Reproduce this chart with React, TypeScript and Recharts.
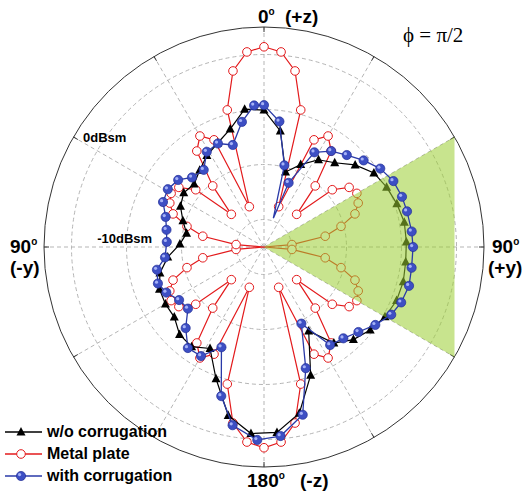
import React from "react";
import { RadarChart, Radar, PolarGrid, PolarAngleAxis, PolarRadiusAxis, Legend } from "recharts";

const W = 522;
const H = 495;
const CX = 264;
const CY = 247;
const R = 220;

// RCS in dBsm at incidence angle (deg, clockwise from +z); radial axis -40 (centre) .. 0 (outer circle)
const redAngles = [
  0, 5, 10, 15, 20, 25, 30, 35, 40, 45, 50, 55, 60, 65, 70, 75, 80, 85, 90,
  95, 100, 105, 110, 115, 120, 125, 130, 135, 140, 145, 150, 155, 160, 165, 170, 175, 180,
  185, 190, 195, 200, 205, 210, 215, 220, 225, 230, 235, 240, 245, 250, 255, 260, 265, 270,
  275, 280, 285, 290, 295, 300, 305, 310, 315, 320, 325, 330, 335, 340, 345, 350, 355,
];
const redDb = [
  -3.6, -4.4, -7.5, -14.2, -32.2, -18.5, -16.7, -18.7, -25.5, -31.6, -23.8, -21.1, -20.5, -21.1, -22.4, -25.5, -28.7, -34.9, -40,
  -34.9, -28.7, -25.5, -22.4, -21.1, -20.5, -21.1, -23.8, -31.6, -25.5, -18.7, -16.7, -18.5, -32.2, -14.2, -7.5, -4.4, -3.5,
  -4.4, -7.5, -14.2, -32.2, -18.5, -16.7, -18.7, -25.5, -31.6, -23.8, -21.1, -20.5, -21.1, -22.4, -25.5, -28.7, -34.9, -40,
  -34.9, -28.7, -25.5, -22.4, -21.1, -20.5, -21.1, -23.8, -31.6, -25.5, -18.7, -16.7, -18.5, -32.2, -14.2, -7.5, -4.4,
];

const blackAngles = [
  0, 8, 16, 24, 32, 40, 48, 56, 64, 72, 80, 88, 96, 104, 112, 120, 128, 136, 144, 152, 160, 168, 176,
  184, 192, 200, 208, 216, 224, 232, 240, 248, 256, 264, 272, 280, 288, 296, 304, 312, 320, 328, 336, 344, 352,
];
const blackDb = [
  -15.1, -18.7, -25.8, -23.6, -21.3, -20.0, -17.7, -15.9, -15.2, -14.6, -14.1, -14.1, -14.1, -13.9, -14.0,
  -14.6, -15.5, -16.6, -18.4, -22.7, -15.2, -9.1, -6.2, -6.0, -8.7, -14.5, -19.1, -17.6, -17.9, -19.3,
  -19.3, -19.5, -20.5, -22.4, -24.7, -25.7, -24.5, -23.1, -22.4, -22.9, -21.8, -20.4, -19.3, -17.7, -14.7,
];

const blueAngles = [
  0, 7, 14, 18, 21, 28, 35, 42, 49, 56, 63, 70, 76, 84, 90, 98, 105, 112, 118, 125, 132, 139, 146, 154,
  161, 167, 175, 182, 190, 196, 203, 210, 217, 224, 231, 238, 245, 251, 258, 264, 273, 280, 287, 294,
  301, 308, 314, 322, 329, 336, 343, 350, 356,
];
const blueDb = [
  -14.2, -17.0, -24.7, -34.5, -27.5, -20.5, -18.7, -17.5, -16.0, -14.5, -13.6, -13.3, -13.2, -13.0, -12.9,
  -12.9, -12.7, -13.1, -13.8, -15.3, -16.9, -18.0, -18.5, -24.5, -16.7, -8.7, -5.5, -4.9, -7.1, -11.8,
  -20.2, -17.1, -17.0, -19.5, -22.2, -21.8, -20.4, -19.6, -20.1, -21.9, -22.3, -22.0, -21.3, -19.9,
  -19.6, -20.2, -21.8, -22.2, -19.8, -19.4, -20.6, -16.9, -14.2,
];
// vertices of the blue trace drawn without a marker
const blueLineOnly = [18];

// illuminated sector: centre, 60 deg and 120 deg on the outer circle
const wedgeAngles = [0, 60, 120];
const wedgeDb = [-40, 0, 0];

const RED = "#e31a1c";
const BLUE = "#2a3aa8";
const BLACK = "#000";
const FONT = "'Liberation Sans', Arial, sans-serif";

const toRows = (a: number[], v: number[]) => a.map((angle, i) => ({ angle, db: v[i] }));
const redRows = toRows(redAngles, redDb);
const blackRows = toRows(blackAngles, blackDb);
const blueRows = toRows(blueAngles, blueDb);
const wedgeRows = toRows(wedgeAngles, wedgeDb);

const rowOf = (p: any) => (p.payload && "payload" in p.payload ? p.payload.payload : p.payload) || {};
const ok = (p: any) => Number.isFinite(p.cx) && Number.isFinite(p.cy);

const Tri = ({ x, y }: { x: number; y: number }) => (
  <polygon points={`${x},${y - 5} ${x - 4.5},${y + 3.5} ${x + 4.5},${y + 3.5}`} fill={BLACK} />
);
const Ring = ({ x, y }: { x: number; y: number }) => (
  <circle cx={x} cy={y} r={4.3} fill="#fff" stroke={RED} strokeWidth={1} />
);
const Ball = ({ x, y }: { x: number; y: number }) => (
  <g>
    <circle cx={x} cy={y} r={4.6} fill="#3d4fc4" stroke="#222e96" strokeWidth={0.7} />
    <circle cx={x - 1.4} cy={y - 1.4} r={1.6} fill="#b9c3ff" opacity={0.85} />
  </g>
);

const blackDot = (p: any) => (ok(p) ? <Tri key={p.index} x={p.cx} y={p.cy} /> : <g key={p.index} />);
const redDot = (p: any) =>
  ok(p) && rowOf(p).db > -40 ? <Ring key={p.index} x={p.cx} y={p.cy} /> : <g key={p.index} />;
const blueDot = (p: any) =>
  ok(p) && !blueLineOnly.includes(rowOf(p).angle) ? <Ball key={p.index} x={p.cx} y={p.cy} /> : <g key={p.index} />;

// labels of the angle axis, as offsets from the centre
const angleLabels: Record<number, { t: string; deg?: boolean; dx: number; dy: number }[]> = {
  0: [
    { t: "0", deg: true, dx: -6, dy: -224 },
    { t: "(+z)", dx: 21, dy: -224 },
  ],
  90: [
    { t: "90", deg: true, dx: 228, dy: 6 },
    { t: "(+y)", dx: 224, dy: 27 },
  ],
  180: [
    { t: "180", deg: true, dx: -17, dy: 240 },
    { t: "(-z)", dx: 36, dy: 240 },
  ],
  270: [
    { t: "90", deg: true, dx: -254, dy: 6 },
    { t: "(-y)", dx: -254, dy: 27 },
  ],
};

const angleTick = (p: any) => {
  const v = Number(p.payload?.value);
  if (v % 30 !== 0 || v >= 360) return <g />;
  const a = (p.payload.coordinate * Math.PI) / 180;
  const lbl = angleLabels[v] || [];
  return (
    <g>
      <line
        x1={CX + R * Math.cos(a)}
        y1={CY - R * Math.sin(a)}
        x2={CX + (R - 5) * Math.cos(a)}
        y2={CY - (R - 5) * Math.sin(a)}
        stroke="#333"
        strokeWidth={1}
      />
      {lbl.map((l, i) => (
        <text key={i} x={CX + l.dx} y={CY + l.dy} fontFamily={FONT} fontWeight="bold" fontSize={19} fill="#000">
          {l.t}
          {l.deg && (
            <tspan fontSize={10} dy={-8}>
              o
            </tspan>
          )}
        </text>
      ))}
    </g>
  );
};

const dbTick = (show: number, label: string, dx: number) => (p: any) =>
  p.payload?.value === show ? (
    <text x={p.x + dx} y={p.y + 4.5} fontFamily={FONT} fontWeight="bold" fontSize={13} fill="#000" textAnchor="start">
      {label}
    </text>
  ) : (
    <g />
  );

const legendRows = [
  { name: "w/o corrugation", color: BLACK, Mark: Tri },
  { name: "Metal plate", color: RED, Mark: Ring },
  { name: "with corrugation", color: BLUE, Mark: Ball },
];

const renderLegend = () => (
  <div>
    {legendRows.map((r) => (
      <div key={r.name} style={{ display: "flex", alignItems: "center", height: 22 }}>
        <svg width={46} height={22}>
          <line x1={5} y1={11} x2={42} y2={11} stroke={r.color} strokeWidth={1.3} />
          <r.Mark x={21} y={11} />
        </svg>
        <span style={{ fontFamily: FONT, fontWeight: "bold", fontSize: 16, color: "#000", marginLeft: 1 }}>
          {r.name}
        </span>
      </div>
    ))}
  </div>
);

const polar = {
  width: W,
  height: H,
  cx: CX,
  cy: CY,
  outerRadius: R,
  startAngle: 90,
  endAngle: -270,
  margin: { top: 0, right: 0, bottom: 0, left: 0 },
};

const abs: React.CSSProperties = { position: "absolute", left: 0, top: 0 };

// one trace per chart, all charts stacked on the same polar frame
const Overlay = ({ rows, children }: { rows: any[]; children: React.ReactNode }) => (
  <div style={abs}>
    <RadarChart {...polar} data={rows}>
      <PolarAngleAxis dataKey="angle" type="number" domain={[0, 360]} tick={false} tickLine={false} axisLine={false} />
      <PolarRadiusAxis type="number" domain={[-40, 0]} allowDataOverflow tick={false} tickLine={false} axisLine={false} />
      {children}
    </RadarChart>
  </div>
);

export default function App() {
  return (
    <div style={{ position: "absolute", left: 0, top: 0, width: W, height: H, background: "#fff" }}>
      <div style={abs}>
        <RadarChart {...polar} data={redRows}>
          <PolarGrid
            gridType="circle"
            polarRadius={[27.5, 82.5, 137.5, 192.5]}
            polarAngles={[0, 30, 60, 90, 120, 150, 180, 210, 240, 270, 300, 330]}
            stroke="#b5b5b5"
            strokeDasharray="4 3"
          />
          <PolarAngleAxis
            dataKey="angle"
            type="number"
            domain={[0, 360]}
            tickCount={13}
            axisLineType="circle"
            axisLine={{ stroke: "#333", strokeWidth: 1 }}
            tickLine={false}
            tick={angleTick}
          />
          <PolarRadiusAxis
            angle={177}
            type="number"
            domain={[-40, 0]}
            allowDataOverflow
            tickCount={5}
            axisLine={false}
            tickLine={false}
            tick={dbTick(-10, "-10dBsm", -2)}
          />
          <PolarRadiusAxis
            radiusAxisId="lbl"
            angle={150}
            type="number"
            domain={[-40, 0]}
            allowDataOverflow
            tickCount={5}
            axisLine={false}
            tickLine={false}
            tick={dbTick(0, "0dBsm", 9.5)}
          />
          <Radar
            dataKey="db"
            stroke={RED}
            strokeWidth={1.2}
            fill="none"
            dot={redDot}
            activeDot={false}
            legendType="none"
            isAnimationActive={false}
          />
          <Legend
            layout="vertical"
            verticalAlign="bottom"
            align="left"
            wrapperStyle={{ left: 0, top: 421, width: 200 }}
            content={renderLegend}
          />
        </RadarChart>
      </div>
      <Overlay rows={blackRows}>
        <Radar
          dataKey="db"
          stroke={BLACK}
          strokeWidth={1.2}
          fill="none"
          dot={blackDot}
          activeDot={false}
          legendType="none"
          isAnimationActive={false}
        />
      </Overlay>
      <Overlay rows={wedgeRows}>
        <Radar
          dataKey="db"
          stroke="none"
          fill="#9acd32"
          fillOpacity={0.55}
          dot={false}
          activeDot={false}
          legendType="none"
          isAnimationActive={false}
        />
      </Overlay>
      <Overlay rows={blueRows}>
        <Radar
          dataKey="db"
          stroke={BLUE}
          strokeWidth={1.3}
          fill="none"
          dot={blueDot}
          activeDot={false}
          legendType="none"
          isAnimationActive={false}
        />
      </Overlay>
      <div
        style={{
          position: "absolute",
          left: 403,
          top: 25,
          fontFamily: "'Liberation Serif', 'Times New Roman', serif",
          fontSize: 21,
          lineHeight: "21px",
          whiteSpace: "nowrap",
        }}
      >
        ϕ = π/2
      </div>
    </div>
  );
}
